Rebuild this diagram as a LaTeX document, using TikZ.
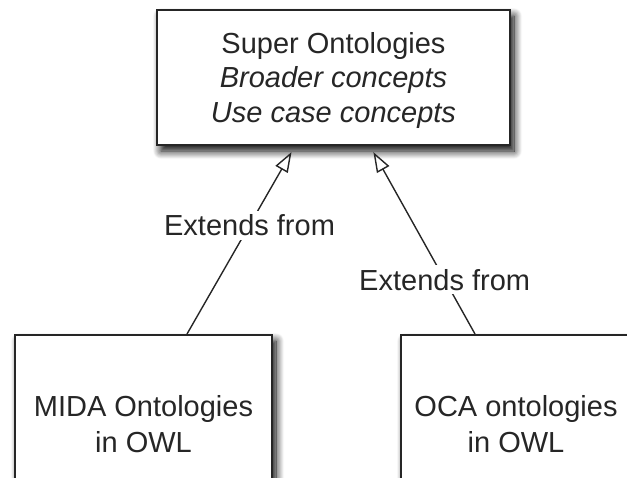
\documentclass[tikz,border=0pt]{standalone}
\usepackage{fontspec}
\setmainfont{Liberation Sans}
\usetikzlibrary{arrows.meta,shadows.blur}
\tikzset{
  box/.style={draw=black!85, line width=2pt, fill=white, align=center, inner sep=0pt, text=black!85,
    blur shadow={shadow xshift=4pt, shadow yshift=-6pt, shadow blur steps=12, shadow blur radius=8pt, shadow opacity=100}},
  ext/.style={draw=black!85, line width=1.4pt, -{Triangle[open, length=20pt, width=14pt, line width=1.4pt]}, shorten >=7pt},
  lbl/.style={fill=white, inner xsep=2pt, inner ysep=4pt, font=\fontsize{29}{34}\selectfont, text=black!85}
}
\begin{document}
\begin{tikzpicture}[x=1pt,y=-1pt]
\useasboundingbox (0,0) rectangle (627,477);
\node[box, minimum width=353pt, minimum height=135pt, font=\fontsize{29}{34.5}\selectfont] (super) at (333.5,77.5)
  {\rule{0pt}{27pt}Super Ontologies\\\textit{Broader concepts}\\\textit{Use case concepts}};
\node[box, minimum width=257pt, minimum height=178pt, font=\fontsize{29}{36}\selectfont] (mida) at (143.5,424)
  {MIDA Ontologies\\in OWL};
\node[box, minimum width=230pt, minimum height=178pt, font=\fontsize{29}{36}\selectfont] (oca) at (516,424)
  {OCA ontologies\\in OWL};
\draw[ext] ([xshift=173pt]mida.north west) -- ([xshift=139pt]super.south west);
\draw[ext] ([xshift=75pt]oca.north west) -- ([xshift=214pt]super.south west);
\path ([xshift=173pt]mida.north west) -- node[lbl, pos=0.579] (l1) {Extends from} ([xshift=139pt]super.south west);
\path ([xshift=75pt]oca.north west) -- node[lbl, pos=0.289] (l2) {Extends from} ([xshift=214pt]super.south west);
\end{tikzpicture}
\end{document}
